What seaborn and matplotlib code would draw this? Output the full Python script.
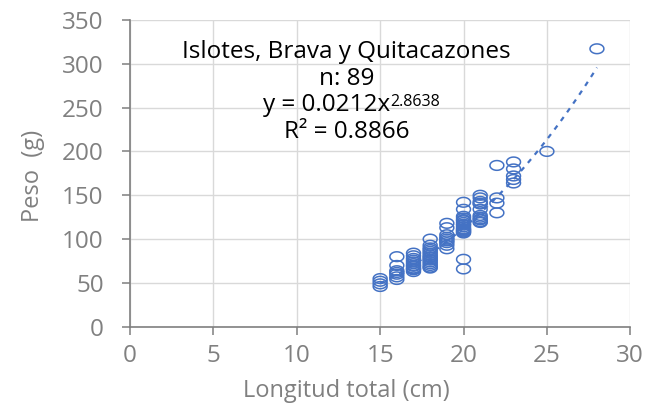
import numpy as np
import pandas as pd
import matplotlib
matplotlib.use("Agg")
import matplotlib.pyplot as plt
from matplotlib.path import Path
import seaborn as sns

# Longitud total (cm) and peso (g) per specimen, grouped by length class
len_15 = [55, 52, 49, 46]
len_16 = [80, 70, 64, 62, 60, 57, 54]
len_17 = [84, 81, 78, 76, 74, 72, 70, 69, 67, 66, 65, 63]
len_18 = [100, 93, 90, 88, 86, 84, 82, 80, 79, 77, 76, 74, 72, 70, 68, 67]
len_19 = [118, 113, 105, 102, 100, 98, 96, 93, 89]
len_20 = [142, 134, 126, 124, 122, 121, 119, 117, 116, 114, 112, 111, 110, 109, 108, 107, 77, 66]
len_21 = [150, 147, 143, 141, 140, 134, 127, 125, 123, 122, 120, 119]
len_22 = [184, 147, 141, 130]
len_23 = [188, 180, 172, 168, 164]
len_25 = [200]
len_28 = [317]

groups = {15: len_15, 16: len_16, 17: len_17, 18: len_18, 19: len_19,
          20: len_20, 21: len_21, 22: len_22, 23: len_23, 25: len_25, 28: len_28}

# Potential regression  y = a * x^b
coef_a = 0.0212
coef_b = 2.8638
r2 = 0.8866

x_ticks = [0, 5, 10, 15, 20, 25, 30]
y_ticks = [0, 50, 100, 150, 200, 250, 300, 350]

rows = [(lt, w) for lt, ws in groups.items() for w in ws]
df = pd.DataFrame(rows, columns=["longitud", "peso"])

sns.set_theme(style="white")
plt.rcParams["font.family"] = ["Open Sans", "DejaVu Sans"]

blue = "#4472C4"
grey_txt = "#808080"

fig = plt.figure(figsize=(6.6, 4.05), dpi=100)
ax = fig.add_axes([0.197, 0.193, 0.758, 0.758])

# elliptical open marker
t = np.linspace(0, 2 * np.pi, 60)
ellipse = Path(np.column_stack([np.cos(t), 0.7 * np.sin(t)]), closed=False)

sns.scatterplot(data=df, x="longitud", y="peso", marker=ellipse, s=100,
                facecolors="none", edgecolor=blue, linewidth=1.1, ax=ax,
                zorder=3, legend=False)

xs = np.linspace(df["longitud"].min(), df["longitud"].max(), 100)
trend = pd.DataFrame({"x": xs, "y": coef_a * xs ** coef_b})
sns.lineplot(data=trend, x="x", y="y", ax=ax, color=blue, lw=1.6,
             linestyle=(0, (2.2, 2.6)), zorder=2)

ax.set_xlim(0, 30)
ax.set_ylim(0, 350)
ax.set_xticks(x_ticks)
ax.set_yticks(y_ticks)
ax.grid(True, color="#D9D9D9", lw=1)
ax.set_axisbelow(True)
for s in ["top", "right"]:
    ax.spines[s].set_visible(False)
for s in ["left", "bottom"]:
    ax.spines[s].set_color("#7F7F7F")
    ax.spines[s].set_linewidth(1.2)
ax.tick_params(axis="y", direction="out", length=6, width=1.1,
               color="#7F7F7F", labelcolor=grey_txt, labelsize=17.5,
               pad=13, left=True)
ax.tick_params(axis="x", direction="out", length=6, width=1.1,
               color="#7F7F7F", labelcolor=grey_txt, labelsize=17.5,
               pad=6, bottom=True)

ax.set_xlabel("Longitud total (cm)", fontsize=17, color=grey_txt, va="center")
ax.xaxis.set_label_coords(0.433, -0.21)
ax.set_ylabel("Peso  (g)", fontsize=17, color=grey_txt, va="center")
ax.yaxis.set_label_coords(-0.194, 0.49)

# regression note, drawn line by line on text baselines
note_kw = dict(va="baseline", fontsize=17.5, color="#000000")
ax.text(13.0, 306, "Islotes, Brava y Quitacazones", ha="center", **note_kw)
ax.text(13.0, 276, "n: 89", ha="center", **note_kw)
ax.text(15.6, 246, f"y = {coef_a}x", ha="right", **note_kw)
ax.text(15.6, 252, f"{coef_b}", ha="left", va="baseline", fontsize=11.5,
        color="#000000")
ax.text(13.0, 215.5, f"R² = {r2}", ha="center", **note_kw)

fig.savefig("out.png", dpi=100)
